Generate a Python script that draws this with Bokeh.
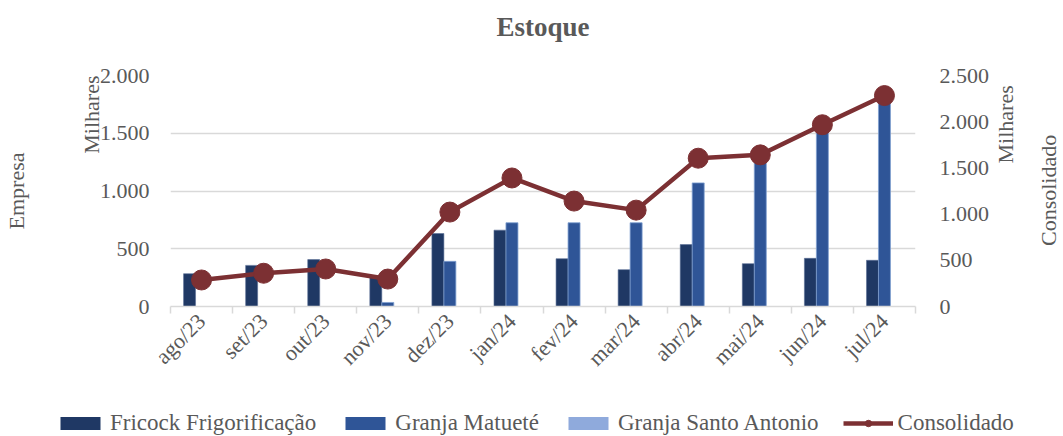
import numpy as np
from math import pi
from bokeh.plotting import figure
from bokeh.models import (Range1d, LinearAxis, FixedTicker, Legend, LegendItem,
                          ColumnDataSource)
from bokeh.transform import dodge
from bokeh.embed import file_html
from bokeh.resources import INLINE

months = ["ago/23", "set/23", "out/23", "nov/23", "dez/23", "jan/24",
          "fev/24", "mar/24", "abr/24", "mai/24", "jun/24", "jul/24"]
fricock = [284, 356, 406, 262, 632, 661, 414, 319, 536, 371, 417, 400]
matuete = [0, 0, 0, 35, 391, 725, 725, 725, 1070, 1270, 1550, 1883]
santo_antonio = [0, 0, 0, 0, 0, 0, 0, 0, 0, 0, 0, 0]
consolidado = [287, 360, 406, 297, 1022, 1391, 1141, 1043, 1605, 1641, 1967, 2283]
series_names = ["Fricock Frigorificação", "Granja Matueté", "Granja Santo Antonio", "Consolidado"]
left_ticks = [0, 500, 1000, 1500, 2000]
right_ticks = [0, 500, 1000, 1500, 2000, 2500]

FONT = "Liberation Serif"
GRAY = "#595959"
GRID = "#d9d9d9"
NB = "\u00a0"
C_FRI, C_MAT, C_SAN, C_CON = "#1f3864", "#2f5597", "#8faadc", "#7c3033"

pos = np.arange(len(months)) + 0.5
src = ColumnDataSource(dict(x=pos, fricock=fricock, matuete=matuete,
                            santo=santo_antonio, cons=consolidado))

p = figure(frame_width=745, frame_height=231, min_border_left=163, min_border_right=155,
           min_border_top=75, min_border_bottom=100, output_backend="svg",
           toolbar_location=None, title_location=None, x_range=Range1d(0, len(months)),
           y_range=Range1d(0, 2000))
p.extra_y_ranges = {"cons": Range1d(0, 2500)}
p.outline_line_color = None
p.background_fill_color = "white"

xa = p.below[0]
ya = p.left[0]

bw = 0.193
p.vbar(x=dodge("x", -bw, range=p.x_range), top="fricock", width=bw, source=src,
       fill_color=C_FRI, line_color="#5a6f96", line_width=0.6)
p.vbar(x="x", top="matuete", width=bw, source=src,
       fill_color=C_MAT, line_color="#7f9fd0", line_width=0.8)
p.vbar(x=dodge("x", bw, range=p.x_range), top="santo", width=bw, source=src,
       fill_color=C_SAN, line_color=None)
p.line(x="x", y="cons", source=src, y_range_name="cons", line_color=C_CON, line_width=4.5)
p.scatter(x="x", y="cons", source=src, y_range_name="cons", size=20,
          fill_color=C_CON, line_color=C_CON)


def style_label(ax, text, standoff, orient=None, align=None, size="22px", bold=False):
    ax.axis_label = text
    ax.axis_label_standoff = standoff
    ax.axis_label_text_font = FONT
    ax.axis_label_text_font_size = size
    ax.axis_label_text_font_style = "bold" if bold else "normal"
    ax.axis_label_text_color = GRAY
    props = ax.properties()
    if orient is not None and "axis_label_orientation" in props:
        ax.axis_label_orientation = orient
    if align is not None and "axis_label_align" in props:
        ax.axis_label_align = align


def blank_axis(ax):
    ax.ticker = FixedTicker(ticks=[])
    ax.axis_line_color = None
    ax.major_tick_line_color = None
    ax.minor_tick_line_color = None
    ax.major_tick_out = 0
    ax.major_tick_in = 0
    ax.minor_tick_out = 0
    ax.minor_tick_in = 0
    ax.major_label_standoff = 0
    ax.major_label_text_alpha = 0


# x axis
xa.ticker = FixedTicker(ticks=list(pos), minor_ticks=list(range(len(months) + 1)))
xa.major_label_overrides = {float(v): m for v, m in zip(pos, months)}
xa.major_label_orientation = pi / 4
xa.major_tick_line_color = None
xa.major_tick_out = 7
xa.major_tick_in = 0
xa.minor_tick_line_color = GRID
xa.minor_tick_line_width = 1.5
xa.minor_tick_out = 7
xa.minor_tick_in = 0
xa.axis_line_color = GRID
xa.axis_line_width = 1.5
xa.major_label_standoff = 4
xa.major_label_text_font = FONT
xa.major_label_text_font_size = "22px"
xa.major_label_text_color = GRAY

# chart title (as label of a blank top axis)
top_axis = LinearAxis()
blank_axis(top_axis)
style_label(top_axis, "Estoque", 34, size="27px", bold=True)
p.add_layout(top_axis, "above")

# left axis
ya.ticker = FixedTicker(ticks=left_ticks)
ya.major_label_overrides = {v: f"{v:,}".replace(",", ".") for v in left_ticks}
ya.axis_line_color = None
ya.major_tick_line_color = None
ya.minor_tick_line_color = None
ya.major_tick_out = 0
ya.minor_tick_out = 0
ya.major_label_standoff = 21
ya.major_label_text_font = FONT
ya.major_label_text_font_size = "22px"
ya.major_label_text_color = GRAY
style_label(ya, "Milhares", 6, orient=pi / 2, align="end")

ya2 = LinearAxis()
blank_axis(ya2)
style_label(ya2, "Empresa", 34)
p.add_layout(ya2, "left")

# right axis
ra = LinearAxis(y_range_name="cons")
ra.ticker = FixedTicker(ticks=right_ticks)
ra.major_label_overrides = {v: f"{v:,}".replace(",", ".") for v in right_ticks}
ra.axis_line_color = None
ra.major_tick_line_color = None
ra.minor_tick_line_color = None
ra.major_tick_out = 0
ra.minor_tick_out = 0
ra.major_label_standoff = 24
ra.major_label_text_font = FONT
ra.major_label_text_font_size = "22px"
ra.major_label_text_color = GRAY
style_label(ra, NB * 5 + "Milhares", 13, orient=pi / 2, align="center")
p.add_layout(ra, "right")

ra2 = LinearAxis(y_range_name="cons")
blank_axis(ra2)
style_label(ra2, NB * 11 + "Consolidado", 15, orient=pi / 2, align="start")
p.add_layout(ra2, "right")

p.xgrid.grid_line_color = None
p.ygrid.grid_line_color = GRID
p.ygrid.grid_line_width = 1.5

# legend strip below the chart (its own glyphs lie outside its visible ranges)
lg = figure(width=1063, height=30, min_border=0, output_backend="svg",
            toolbar_location=None, title_location=None, x_axis_location=None,
            y_axis_location=None, x_range=Range1d(-2, -1), y_range=Range1d(-2, -1))
lg.outline_line_color = None
lg.grid.visible = False
g1 = lg.vbar(x="x", top="fricock", width=0.2, source=src, fill_color=C_FRI, line_color=None)
g2 = lg.vbar(x="x", top="matuete", width=0.2, source=src, fill_color=C_MAT, line_color=None)
g3 = lg.vbar(x="x", top="santo", width=0.2, source=src, fill_color=C_SAN, line_color=None)
g4 = lg.line(x="x", y="cons", source=src, line_color=C_CON, line_width=4.5)
g5 = lg.scatter(x="x", y="cons", source=src, size=20, fill_color=C_CON, line_color=C_CON)

legend = Legend(items=[
    LegendItem(label=series_names[0], renderers=[g1]),
    LegendItem(label=series_names[1], renderers=[g2]),
    LegendItem(label=series_names[2], renderers=[g3]),
    LegendItem(label=series_names[3], renderers=[g4, g5]),
], orientation="horizontal", location=(55, 0))
legend.border_line_color = None
legend.background_fill_alpha = 0
legend.label_text_font = FONT
legend.label_text_font_size = "23px"
legend.label_text_color = GRAY
legend.glyph_width = 50
legend.glyph_height = 16
legend.label_standoff = 5
legend.spacing = 24
legend.padding = 0
legend.margin = 0
lg.add_layout(legend, "center")

open("out.html", "w").write(file_html([p, lg], INLINE))
